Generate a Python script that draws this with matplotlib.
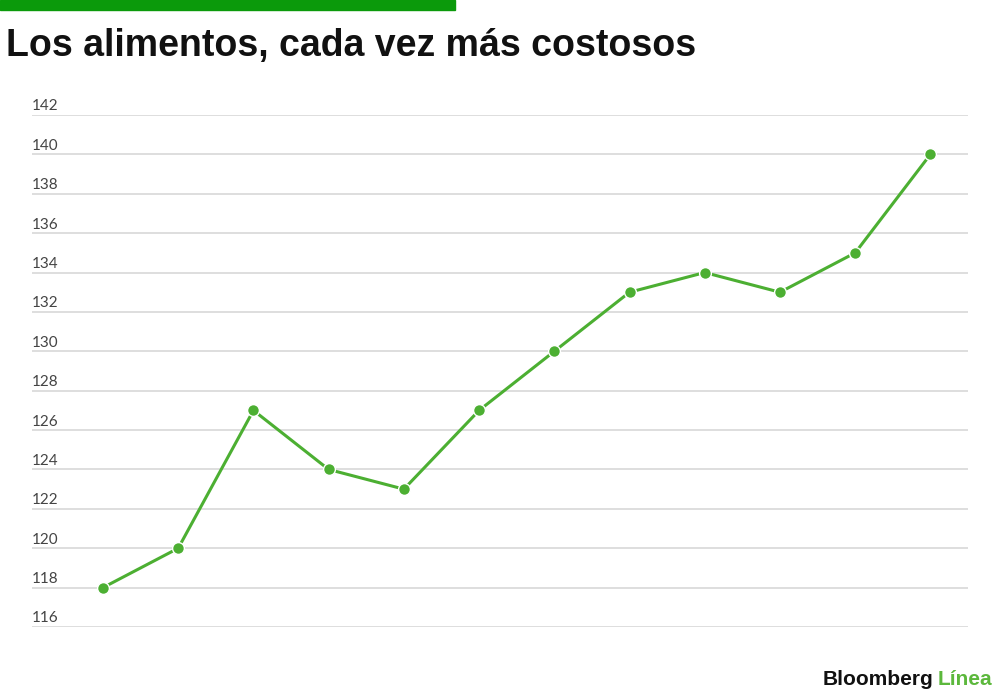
import matplotlib
matplotlib.use("Agg")
import matplotlib.pyplot as plt
from matplotlib.transforms import blended_transform_factory, offset_copy

# data
months = list(range(12))
values = [118, 120, 127, 124, 123, 127, 130, 133, 134, 133, 135, 140]
yticks = [116, 118, 120, 122, 124, 126, 128, 130, 132, 134, 136, 138, 140, 142]

green_line = "#4caf32"
green_bar = "#0b9a0b"

fig = plt.figure(figsize=(10, 6.96), dpi=100)

# top green band
fig.patches.append(plt.Rectangle((0, 1 - 10 / 696), 0.455, 10 / 696,
                                 transform=fig.transFigure, color=green_bar, zorder=5))

fig.text(0.006, 1 - 56 / 696, "Los alimentos, cada vez más costosos",
         fontsize=27, fontweight="bold", color="#111111",
         family="Liberation Sans", va="baseline", ha="left")

ax = fig.add_axes([0.032, 69 / 696, 0.936, 512 / 696])
ax.plot(months, values, color=green_line, lw=2.2, zorder=3,
        marker="o", markersize=8.5, markerfacecolor=green_line,
        markeredgecolor="white", markeredgewidth=1.0)

ax.set_ylim(116, 142)
ax.set_xlim(-0.944, 11.5)
for y in yticks:
    ax.axhline(y, color="#d8d8d8", lw=1.2, zorder=1)

ax.set_xticks([])
ax.set_yticks([])
for s in ax.spines.values():
    s.set_visible(False)

trans = offset_copy(blended_transform_factory(ax.transAxes, ax.transData),
                    fig=fig, x=0, y=1.5, units="dots")
for y in yticks:
    ax.text(0.0, y, str(y), transform=trans, ha="left", va="bottom",
            fontsize=11, color="#444444", family="Lato")

# logo
t1 = fig.text(0.823, 1 - 685 / 696, "Bloomberg", fontsize=15, fontweight="bold",
              color="#111111", family="Liberation Sans", va="baseline", ha="left")
fig.canvas.draw()
bb = t1.get_window_extent()
fig.text(bb.x1 / 1000 + 0.004, 1 - 685 / 696, "Línea", fontsize=15, fontweight="bold",
         color="#5cb83c", family="Liberation Sans", va="baseline", ha="left")

fig.savefig("out.png", dpi=100, facecolor="white")
